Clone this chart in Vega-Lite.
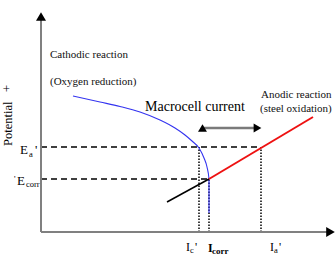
{
  "$schema": "https://vega.github.io/schema/vega-lite/v6.json",
  "width": 336,
  "height": 264,
  "padding": 0,
  "autosize": {"type": "fit", "contains": "padding"},
  "config": {"view": {"stroke": null}, "font": "Liberation Serif", "text": {"font": "Liberation Serif"}},
  "datasets": {
    "axes": [
      {"x": 0, "v": 0, "x2": 0, "v2": 212},
      {"x": 0, "v": 0, "x2": 286, "v2": 0}
    ],
    "axisHeads": [
      {"x": 0, "v": 215.5, "dir": "up"},
      {"x": 289.5, "v": 0, "dir": "right"}
    ],
    "potentials": [
      {"name": "Ea'", "x": 0, "x2": 220, "v": 85},
      {"name": "Ecorr", "x": 0, "x2": 168, "v": 53}
    ],
    "currents": [
      {"name": "Ic'", "x": 158, "v": 0, "v2": 85},
      {"name": "Icorr", "x": 168, "v": 0, "v2": 53},
      {"name": "Ia'", "x": 220, "v": 0, "v2": 85}
    ],
    "cathodic": [
      {"i": 0, "x": 32, "v": 136},
      {"i": 1, "x": 59, "v": 130},
      {"i": 2, "x": 79, "v": 125.5},
      {"i": 3, "x": 99, "v": 120},
      {"i": 4, "x": 119, "v": 112},
      {"i": 5, "x": 134, "v": 104},
      {"i": 6, "x": 144, "v": 97},
      {"i": 7, "x": 151, "v": 91},
      {"i": 8, "x": 158, "v": 84},
      {"i": 9, "x": 163, "v": 74},
      {"i": 10, "x": 166, "v": 65},
      {"i": 11, "x": 168, "v": 53},
      {"i": 12, "x": 168, "v": 19}
    ],
    "anodic": [
      {"x": 168, "v": 53},
      {"x": 272, "v": 115}
    ],
    "anodicBelow": [
      {"x": 126, "v": 30},
      {"x": 168, "v": 53}
    ],
    "macrocell": [
      {"x": 163, "x2": 215, "v": 104}
    ],
    "macroHeads": [
      {"x": 161.5, "v": 104, "dir": "left"},
      {"x": 216.5, "v": 104, "dir": "right"}
    ],
    "labels": [
      {"style": "note", "text": "Cathodic reaction", "x": 9, "v": 174},
      {"style": "note", "text": "(Oxygen reduction)", "x": 9, "v": 147},
      {"style": "note", "text": "Anodic reaction", "x": 220, "v": 134},
      {"style": "note", "text": "(steel oxidation)", "x": 219, "v": 120},
      {"style": "big", "text": "Macrocell current", "x": 104, "v": 121},
      {"style": "symbol", "text": "E", "x": -21, "v": 78},
      {"style": "symbol", "text": "'", "x": -6, "v": 78},
      {"style": "symbol", "text": "E", "x": -24, "v": 47},
      {"style": "sub", "text": "'", "x": -27, "v": 50},
      {"style": "sub", "text": "a", "x": -12, "v": 75},
      {"style": "sub", "text": "corr", "x": -15, "v": 45},
      {"style": "current", "text": "I", "x": 145, "v": -19},
      {"style": "sub", "text": "c", "x": 149, "v": -21},
      {"style": "current", "text": "'", "x": 154, "v": -19},
      {"style": "current", "text": "I", "x": 229, "v": -19},
      {"style": "sub", "text": "a", "x": 233, "v": -21},
      {"style": "current", "text": "'", "x": 238, "v": -19},
      {"style": "bold", "text": "I", "x": 167, "v": -20},
      {"style": "boldsub", "text": "corr", "x": 171, "v": -22}
    ],
    "axisTitle": [
      {"text": "Potential", "x": -29, "v": 86},
      {"text": "+", "x": -30, "v": 140}
    ]
  },
  "encoding": {
    "x": {"field": "x", "type": "quantitative", "axis": null,
          "scale": {"domain": [-41, 295], "nice": false, "zero": false}},
    "y": {"field": "v", "type": "quantitative", "axis": null,
          "scale": {"domain": [-32, 232], "nice": false, "zero": false}}
  },
  "layer": [
    {
      "data": {"name": "potentials"},
      "mark": {"type": "rule", "color": "#000000", "strokeWidth": 1.5, "strokeDash": [6, 4]},
      "encoding": {"x2": {"field": "x2"}}
    },
    {
      "data": {"name": "currents"},
      "mark": {"type": "rule", "color": "#000000", "strokeWidth": 1.5, "strokeDash": [1.5, 1.5]},
      "encoding": {"y2": {"field": "v2"}}
    },
    {
      "data": {"name": "cathodic"},
      "mark": {"type": "line", "color": "#3434f0", "strokeWidth": 1.1, "interpolate": "monotone"},
      "encoding": {"order": {"field": "i", "type": "quantitative"}}
    },
    {
      "data": {"name": "anodicBelow"},
      "mark": {"type": "line", "color": "#000000", "strokeWidth": 1.5},
      "encoding": {}
    },
    {
      "data": {"name": "anodic"},
      "mark": {"type": "line", "color": "#ee1111", "strokeWidth": 2},
      "encoding": {}
    },
    {
      "data": {"name": "axes"},
      "mark": {"type": "rule", "color": "#808080", "strokeWidth": 2},
      "encoding": {"x2": {"field": "x2"}, "y2": {"field": "v2"}}
    },
    {
      "data": {"name": "axisHeads"},
      "mark": {"type": "point", "filled": true, "color": "#000000", "opacity": 1, "size": 100},
      "encoding": {
        "shape": {"field": "dir", "type": "nominal", "legend": null,
                  "scale": {"domain": ["up", "right"], "range": ["triangle-up", "triangle-right"]}}
      }
    },
    {
      "data": {"name": "macrocell"},
      "mark": {"type": "rule", "color": "#7a7a7a", "strokeWidth": 2.5},
      "encoding": {"x2": {"field": "x2"}}
    },
    {
      "data": {"name": "macroHeads"},
      "mark": {"type": "point", "filled": true, "color": "#000000", "opacity": 1, "size": 80},
      "encoding": {
        "shape": {"field": "dir", "type": "nominal", "legend": null,
                  "scale": {"domain": ["left", "right"], "range": ["triangle-left", "triangle-right"]}}
      }
    },
    {
      "data": {"name": "labels"},
      "transform": [{"filter": "datum.style === 'note'"}],
      "mark": {"type": "text", "font": "Liberation Serif", "align": "left", "baseline": "alphabetic", "fontSize": 11, "color": "#111111"},
      "encoding": {"text": {"field": "text"}}
    },
    {
      "data": {"name": "labels"},
      "transform": [{"filter": "datum.style === 'big'"}],
      "mark": {"type": "text", "font": "Liberation Serif", "align": "left", "baseline": "alphabetic", "fontSize": 14, "color": "#000000"},
      "encoding": {"text": {"field": "text"}}
    },
    {
      "data": {"name": "labels"},
      "transform": [{"filter": "datum.style === 'symbol'"}],
      "mark": {"type": "text", "font": "Liberation Serif", "align": "left", "baseline": "alphabetic", "fontSize": 13, "color": "#000000"},
      "encoding": {"text": {"field": "text"}}
    },
    {
      "data": {"name": "labels"},
      "transform": [{"filter": "datum.style === 'current'"}],
      "mark": {"type": "text", "font": "Liberation Serif", "align": "left", "baseline": "alphabetic", "fontSize": 12, "color": "#000000"},
      "encoding": {"text": {"field": "text"}}
    },
    {
      "data": {"name": "labels"},
      "transform": [{"filter": "datum.style === 'sub'"}],
      "mark": {"type": "text", "font": "Liberation Serif", "align": "left", "baseline": "alphabetic", "fontSize": 8.5, "color": "#000000"},
      "encoding": {"text": {"field": "text"}}
    },
    {
      "data": {"name": "labels"},
      "transform": [{"filter": "datum.style === 'bold'"}],
      "mark": {"type": "text", "font": "Liberation Serif", "align": "left", "baseline": "alphabetic", "fontSize": 12, "fontWeight": "bold", "color": "#000000"},
      "encoding": {"text": {"field": "text"}}
    },
    {
      "data": {"name": "labels"},
      "transform": [{"filter": "datum.style === 'boldsub'"}],
      "mark": {"type": "text", "font": "Liberation Serif", "align": "left", "baseline": "alphabetic", "fontSize": 9, "fontWeight": "bold", "color": "#000000"},
      "encoding": {"text": {"field": "text"}}
    },
    {
      "data": {"name": "axisTitle"},
      "mark": {"type": "text", "font": "Liberation Serif", "align": "left", "baseline": "alphabetic", "angle": 270, "fontSize": 12.5, "color": "#000000"},
      "encoding": {"text": {"field": "text"}}
    }
  ]
}
